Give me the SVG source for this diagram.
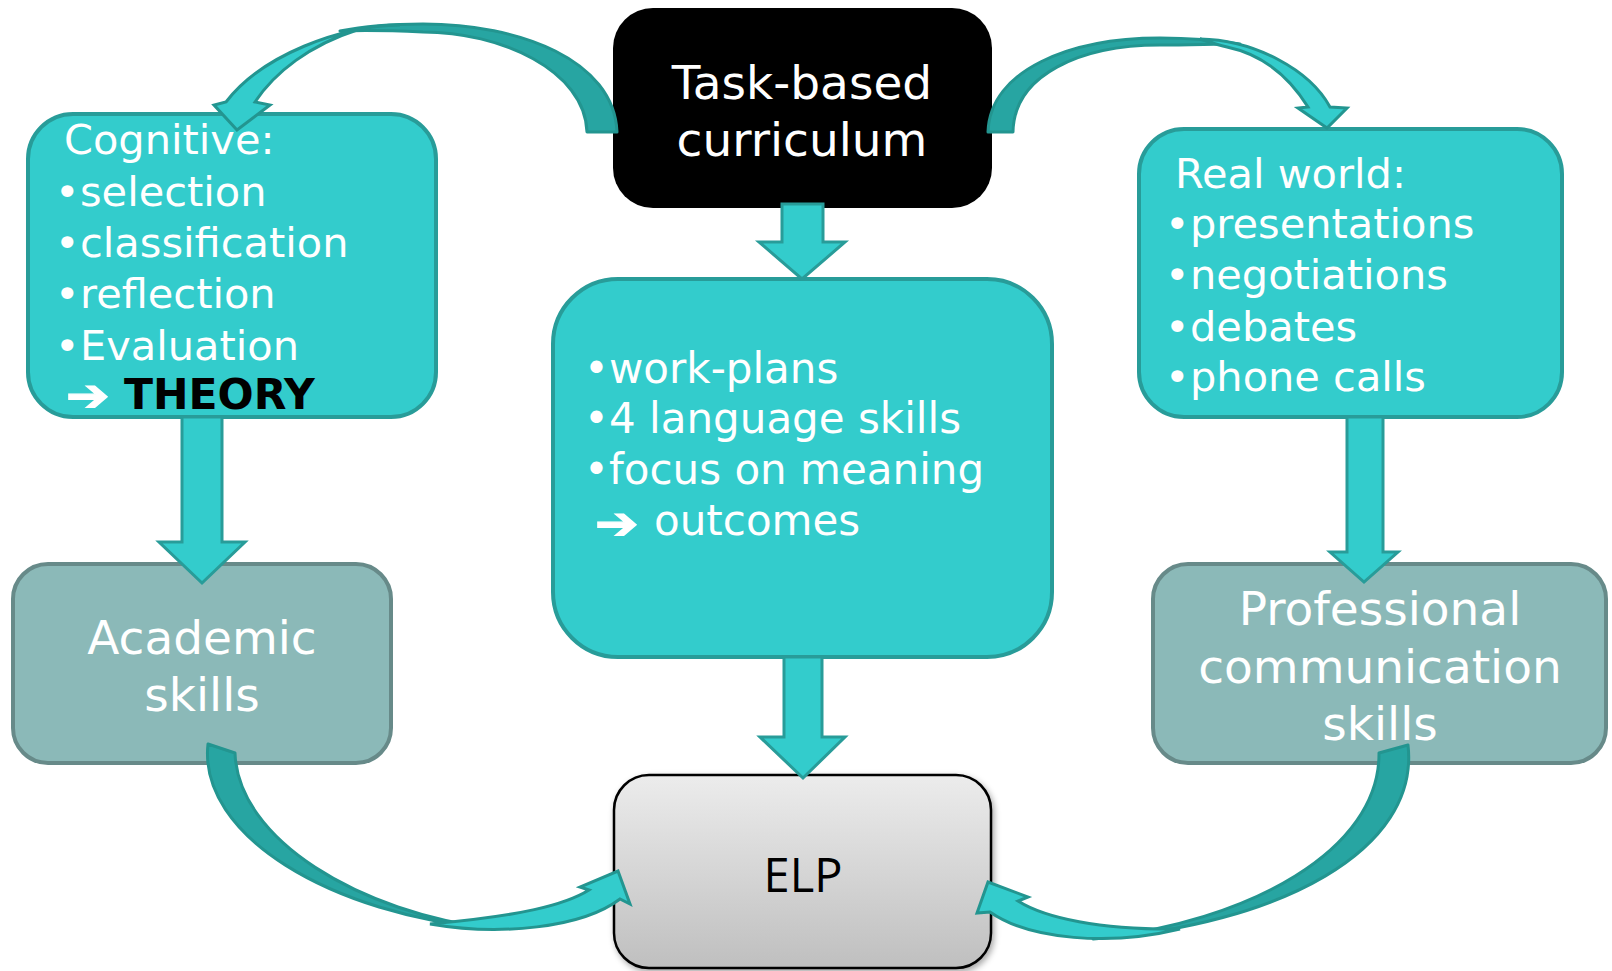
<svg xmlns="http://www.w3.org/2000/svg" width="1612" height="971" viewBox="0 0 1612 971">
  <defs>
    <linearGradient id="elpFill" x1="0" y1="0" x2="0" y2="1">
      <stop offset="0" stop-color="#ececec"/>
      <stop offset="1" stop-color="#bfbfbf"/>
    </linearGradient>
    <filter id="softShadow" x="-10%" y="-10%" width="125%" height="130%">
      <feDropShadow dx="2" dy="3" stdDeviation="3" flood-color="#000" flood-opacity="0.35"/>
    </filter>
    <style>
      .teal { fill: #33cccc; stroke: #289c99; stroke-width: 4; }
      .grey { fill: #8bb9b8; stroke: #678a89; stroke-width: 4; }
      .txt { font-family: "DejaVu Sans", Verdana, sans-serif; fill: #ffffff; }
      .list { font-size: 41.5px; }
      .mid { font-size: 42px; }
      .big { font-size: 47px; text-anchor: middle; }
      .pointer { font-family: "DejaVu Sans", sans-serif; font-size: 40px; font-weight: bold; fill: #ffffff; stroke: #ffffff; stroke-width: 1.2; }
      .block { fill: #33cccc; stroke: #289c99; stroke-width: 3; stroke-linejoin: miter; }
      .band { fill: #27a5a2; stroke: #239590; stroke-width: 3; stroke-linejoin: round; }
      .head { fill: #33cccc; stroke: #239590; stroke-width: 3; stroke-linejoin: miter; }
    </style>
  </defs>

  <rect width="1612" height="971" fill="#ffffff"/>

  <!-- Nodes -->
  <g id="task-based-curriculum">
    <rect x="613" y="8" width="379" height="200" rx="40" fill="#000000"/>
    <text class="txt big" x="802" y="99">Task-based</text>
    <text class="txt big" x="802" y="156">curriculum</text>
  </g>

  <g id="cognitive">
    <rect class="teal" x="28" y="114" width="408" height="303" rx="45"/>
    <text class="txt list" x="64" y="154">Cognitive:</text>
    <text class="txt list" x="55" y="206">•<tspan x="80">selection</tspan></text>
    <text class="txt list" x="55" y="257">•<tspan x="80">classification</tspan></text>
    <text class="txt list" x="55" y="308">•<tspan x="80">reflection</tspan></text>
    <text class="txt list" x="55" y="360">•<tspan x="80">Evaluation</tspan></text>
    <text class="pointer" transform="translate(66,394) scale(1.3,1.12)" x="0" y="15">➔</text>
    <text class="txt" x="124" y="409" font-size="42.5" font-weight="bold" style="fill:#000000">THEORY</text>
  </g>

  <g id="real-world">
    <rect class="teal" x="1139" y="129" width="423" height="288" rx="45"/>
    <text class="txt list" x="1175" y="188">Real world:</text>
    <text class="txt list" x="1165" y="238">•<tspan x="1190">presentations</tspan></text>
    <text class="txt list" x="1165" y="289">•<tspan x="1190">negotiations</tspan></text>
    <text class="txt list" x="1165" y="341">•<tspan x="1190">debates</tspan></text>
    <text class="txt list" x="1165" y="391">•<tspan x="1190">phone calls</tspan></text>
  </g>

  <g id="task-features">
    <rect class="teal" x="553" y="279" width="499" height="378" rx="65"/>
    <text class="txt mid" x="584" y="383">•<tspan x="609">work-plans</tspan></text>
    <text class="txt mid" x="584" y="433">•<tspan x="609">4 language skills</tspan></text>
    <text class="txt mid" x="584" y="484">•<tspan x="609">focus on meaning</tspan></text>
    <text class="pointer" transform="translate(595,522) scale(1.3,1.12)" x="0" y="15">➔</text>
    <text class="txt mid" x="654" y="535">outcomes</text>
  </g>

  <g id="academic-skills">
    <rect class="grey" x="13" y="564" width="378" height="199" rx="35"/>
    <text class="txt big" x="202" y="654">Academic</text>
    <text class="txt big" x="202" y="711">skills</text>
  </g>

  <g id="professional-skills">
    <rect class="grey" x="1153" y="564" width="453" height="199" rx="35"/>
    <text class="txt big" x="1380" y="625">Professional</text>
    <text class="txt big" x="1380" y="683">communication</text>
    <text class="txt big" x="1380" y="740">skills</text>
  </g>

  <g id="elp">
    <rect x="614" y="775" width="377" height="193" rx="35" fill="url(#elpFill)" stroke="#000000" stroke-width="2.5" filter="url(#softShadow)"/>
    <text x="803" y="892" font-family="'Open Sans', 'Liberation Sans', sans-serif" font-size="47" fill="#000000" text-anchor="middle">ELP</text>
  </g>

  <!-- Connectors -->
  <g id="connectors">
    <!-- straight block arrows -->
    <polygon class="block" points="782,204 823,204 823,242 845,242 802,279 759,242 782,242"/>
    <polygon class="block" points="784,657 822,657 822,737 845,737 803,778 760,737 784,737"/>
    <polygon class="block" points="182,417 222,417 222,542 245,542 202,583 159,542 182,542"/>
    <polygon class="block" points="1347,417 1383,417 1383,552 1398,552 1364,582 1330,552 1347,552"/>

    <!-- curved arrow: Task-based curriculum to Cognitive -->
    <path class="band" d="M617,132 C614,60 520,24 423,24 C395,24 365,26 340,31 C370,30 400,31 423,32 C500,32 585,70 587,132 Z"/>
    <path class="head" d="M400,25 C340,26 262,55 226,102 L214,105 L237,130 L270,105 L255,102 C275,72 310,45 357,30 C370,27 385,25 400,25 Z"/>

    <!-- curved arrow: Task-based curriculum to Real world -->
    <path class="band" d="M988,132 C990,70 1070,38 1160,38 C1190,38 1215,40 1240,44 C1215,44 1190,45 1160,45 C1080,45 1014,75 1013,132 Z"/>
    <path class="head" d="M1200,39 C1255,40 1310,70 1330,107 L1347,108 L1327,128 L1298,108 L1308,107 C1290,78 1265,55 1227,47 C1218,45 1209,42 1200,39 Z"/>

    <!-- curved arrow: Academic skills to ELP -->
    <path class="band" d="M208,744 C198,835 330,915 495,929 C360,913 238,840 235,753 Z"/>
    <path class="head" d="M430,924 C500,936 582,928 620,899 L630,904 L618,871 L580,887 L589,890 C565,905 520,916 430,924 Z"/>

    <!-- curved arrow: Professional communication skills to ELP -->
    <path class="band" d="M1408,745 C1420,850 1280,925 1093,939 C1250,922 1380,850 1379,753 Z"/>
    <path class="head" d="M1180,929 C1110,946 1030,940 990,912 L977,913 L988,882 L1028,897 L1018,901 C1045,918 1100,930 1180,929 Z"/>
  </g>
</svg>
